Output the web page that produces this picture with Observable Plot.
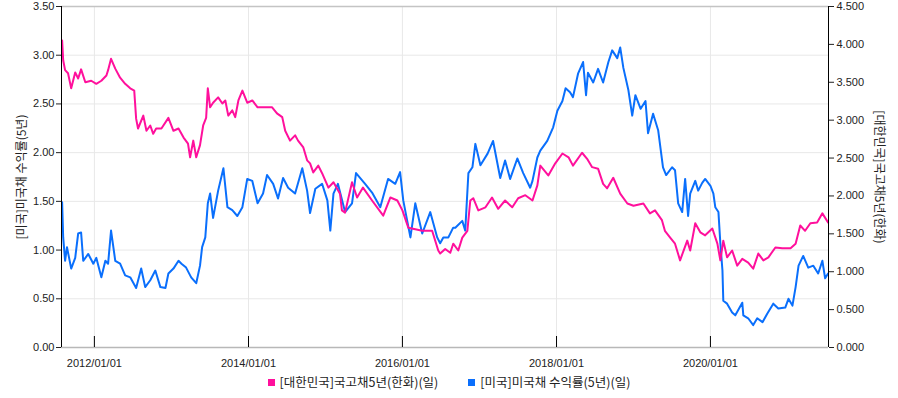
<!DOCTYPE html>
<html><head><meta charset="utf-8">
<script src="https://cdn.jsdelivr.net/npm/d3@7"></script>
<script src="https://cdn.jsdelivr.net/npm/@observablehq/plot@0.6"></script>
<style>
body{margin:0;background:#fff;}
#chart{position:relative;width:898px;height:398px;overflow:hidden;}
.legend{position:absolute;top:373px;left:0;width:898px;display:flex;justify-content:center;gap:30px;font:12.5px "Noto Sans CJK KR",sans-serif;color:#222;line-height:18px;}
.legend .it{display:flex;align-items:center;}
.legend .sw{display:inline-block;width:7px;height:7px;margin-right:5px;}
</style></head>
<body><div id="chart"></div>
<script>
// ---- data ----
const krName = "[대한민국]국고채5년(한화)(일)";
const usName = "[미국]미국채 수익률(5년)(일)";
const leftLabel = "[미국]미국채 수익률(5년)";
const rightLabel = "[대한민국]국고채5년(한화)";
const krColor = "#ff109c";
const usColor = "#0a6ffc";
const xDomain = ["2011-07-29", "2021-07-14"];
const xTicks = ["2012-01-01", "2014-01-01", "2016-01-01", "2018-01-01", "2020-01-01"];
const leftDomain = [0, 3.5];
const rightDomain = [0, 4.5];
const leftTicks = [0, 0.5, 1, 1.5, 2, 2.5, 3, 3.5];
const rightTicks = [0, 0.5, 1, 1.5, 2, 2.5, 3, 3.5, 4, 4.5];

const krDates = [
"2011-08-01","2011-08-06","2011-08-15","2011-08-29","2011-09-13","2011-10-02","2011-10-16","2011-10-30","2011-11-19","2011-12-17",
"2012-01-10","2012-02-03","2012-02-27","2012-03-06","2012-03-20","2012-04-09","2012-05-02","2012-05-26","2012-06-19","2012-07-08",
"2012-07-17","2012-07-26","2012-08-20","2012-09-04","2012-09-22","2012-10-06","2012-10-20","2012-11-14","2012-12-17","2013-01-10",
"2013-02-03","2013-02-27","2013-03-20","2013-03-30","2013-04-14","2013-04-28","2013-05-16","2013-05-31","2013-06-14","2013-06-22",
"2013-07-03","2013-07-17","2013-08-10","2013-08-30","2013-09-13","2013-09-27","2013-10-16","2013-10-30","2013-11-14","2013-12-03",
"2013-12-26","2014-01-19","2014-02-13","2014-03-06","2014-04-23","2014-05-16","2014-06-10","2014-06-24","2014-07-17","2014-08-10",
"2014-08-24","2014-09-18","2014-10-06","2014-10-20","2014-11-04","2014-11-28","2014-12-16","2015-01-15","2015-02-08","2015-03-11",
"2015-03-20","2015-04-04","2015-05-07","2015-05-31","2015-06-28","2015-08-10","2015-10-02","2015-11-05","2015-12-08","2016-01-01",
"2016-01-29","2016-04-04","2016-05-21","2016-06-19","2016-06-28","2016-07-22","2016-08-15","2016-08-29","2016-09-22","2016-10-11",
"2016-11-04","2016-11-18","2016-12-02","2016-12-26","2017-01-29","2017-03-01","2017-03-30","2017-05-02","2017-06-05","2017-07-03",
"2017-08-06","2017-09-09","2017-10-02","2017-10-16","2017-11-23","2017-12-26","2018-01-29","2018-02-27","2018-03-20","2018-05-02",
"2018-05-26","2018-06-19","2018-07-17","2018-08-10","2018-08-29","2018-09-27","2018-10-30","2018-12-03","2019-01-01","2019-02-17",
"2019-03-20","2019-04-13","2019-05-16","2019-05-30","2019-06-24","2019-07-17","2019-08-10","2019-09-13","2019-09-27","2019-10-21",
"2019-11-14","2019-12-07","2020-01-10","2020-02-03","2020-02-17","2020-03-02","2020-03-20","2020-04-13","2020-05-07","2020-05-31",
"2020-06-28","2020-07-22","2020-08-15","2020-09-08","2020-10-02","2020-11-04","2020-12-07","2021-01-15","2021-02-08","2021-03-02",
"2021-03-25","2021-04-19","2021-05-21","2021-06-15","2021-07-12"];
const krValues = [
4.05,3.79,3.66,3.62,3.42,3.63,3.55,3.67,3.50,3.52,
3.48,3.52,3.59,3.66,3.81,3.68,3.56,3.48,3.42,3.39,
3.02,2.89,3.06,2.86,2.93,2.82,2.89,2.89,3.03,2.86,
2.89,2.77,2.69,2.51,2.73,2.51,2.67,2.93,3.03,3.42,
3.17,3.23,3.30,3.22,3.26,3.06,3.13,3.04,3.26,3.39,
3.23,3.26,3.17,3.17,3.17,3.09,3.04,2.86,2.73,2.80,
2.73,2.64,2.47,2.43,2.31,2.40,2.30,2.11,2.18,2.03,
1.81,1.78,2.18,1.98,2.11,1.94,1.74,1.98,1.94,1.81,
1.58,1.54,1.54,1.28,1.24,1.30,1.25,1.37,1.28,1.45,
1.54,1.94,1.97,1.81,1.85,1.98,1.83,1.94,1.85,1.97,
2.01,1.94,2.14,2.40,2.27,2.43,2.56,2.51,2.40,2.57,
2.49,2.38,2.36,2.16,2.10,2.24,2.03,1.90,1.87,1.90,
1.77,1.81,1.68,1.54,1.45,1.37,1.15,1.41,1.28,1.64,
1.52,1.48,1.57,1.37,1.15,1.41,1.19,1.28,1.08,1.17,
1.12,1.04,1.24,1.15,1.19,1.32,1.31,1.31,1.37,1.61,
1.54,1.64,1.65,1.77,1.65];

const usDates = [
"2011-08-01","2011-08-06","2011-08-15","2011-08-24","2011-09-13","2011-10-02","2011-10-16","2011-10-30","2011-11-09","2011-12-03",
"2011-12-27","2012-01-10","2012-02-03","2012-02-22","2012-03-06","2012-03-20","2012-04-09","2012-05-02","2012-05-26","2012-06-19",
"2012-07-17","2012-08-10","2012-08-29","2012-09-22","2012-10-16","2012-11-09","2012-12-03","2012-12-17","2013-01-10","2013-02-03",
"2013-02-17","2013-03-11","2013-04-04","2013-04-28","2013-05-16","2013-05-26","2013-06-10","2013-06-22","2013-07-03","2013-07-17",
"2013-08-10","2013-09-04","2013-09-23","2013-10-16","2013-11-09","2013-12-03","2013-12-26","2014-01-19","2014-02-13","2014-03-11",
"2014-03-30","2014-04-28","2014-05-21","2014-06-14","2014-07-08","2014-08-10","2014-09-13","2014-10-06","2014-10-20","2014-11-14",
"2014-12-16","2015-01-10","2015-01-24","2015-02-08","2015-03-01","2015-04-04","2015-05-07","2015-05-26","2015-07-08","2015-08-10",
"2015-09-18","2015-10-25","2015-11-28","2015-12-21","2016-01-05","2016-02-08","2016-03-02","2016-04-04","2016-05-12","2016-06-14",
"2016-06-28","2016-07-13","2016-08-06","2016-08-29","2016-09-08","2016-10-11","2016-10-25","2016-11-09","2016-11-28","2016-12-12",
"2017-01-05","2017-02-08","2017-03-06","2017-04-09","2017-05-02","2017-05-26","2017-06-29","2017-07-27","2017-08-29","2017-09-09",
"2017-10-02","2017-10-16","2017-11-18","2017-12-16","2018-01-05","2018-01-29","2018-02-13","2018-03-06","2018-03-20","2018-04-13",
"2018-05-07","2018-05-21","2018-05-30","2018-06-24","2018-07-17","2018-08-10","2018-09-04","2018-09-22","2018-10-16","2018-10-30",
"2018-11-14","2018-12-08","2018-12-26","2019-01-10","2019-02-04","2019-02-27","2019-03-11","2019-04-04","2019-04-28","2019-05-21",
"2019-06-05","2019-07-03","2019-07-17","2019-08-01","2019-08-20","2019-09-03","2019-09-17","2019-09-27","2019-10-21","2019-11-04",
"2019-11-23","2019-12-07","2020-01-01","2020-01-15","2020-01-24","2020-02-08","2020-02-17","2020-02-27","2020-03-02","2020-03-20",
"2020-04-13","2020-04-28","2020-05-31","2020-06-05","2020-06-28","2020-07-22","2020-08-10","2020-09-04","2020-09-27","2020-10-25",
"2020-11-18","2020-12-21","2021-01-05","2021-01-24","2021-02-08","2021-02-22","2021-03-16","2021-04-09","2021-05-03","2021-05-26",
"2021-06-15","2021-06-28","2021-07-12"];
const usValues = [
1.49,1.13,0.89,1.03,0.81,0.92,1.17,1.18,0.89,0.96,
0.86,0.92,0.72,0.89,0.86,1.20,0.89,0.86,0.74,0.72,
0.61,0.81,0.62,0.69,0.79,0.62,0.61,0.76,0.81,0.89,
0.86,0.82,0.72,0.66,0.84,1.03,1.13,1.48,1.58,1.33,
1.61,1.84,1.44,1.41,1.35,1.44,1.73,1.71,1.48,1.58,
1.77,1.68,1.53,1.74,1.64,1.58,1.84,1.61,1.38,1.63,
1.68,1.51,1.20,1.58,1.68,1.39,1.48,1.79,1.68,1.59,
1.44,1.73,1.68,1.80,1.51,1.13,1.48,1.17,1.39,1.13,
1.07,1.13,1.13,1.23,1.23,1.30,1.20,1.79,1.85,2.09,
1.87,1.99,2.12,1.74,1.92,1.73,1.94,1.79,1.64,1.71,
1.95,2.02,2.12,2.26,2.43,2.53,2.66,2.62,2.57,2.81,
2.93,2.59,2.82,2.72,2.86,2.72,2.93,3.05,2.97,3.08,
2.87,2.64,2.38,2.59,2.45,2.53,2.20,2.40,2.23,1.85,
1.77,1.85,1.82,1.48,1.39,1.73,1.35,1.58,1.71,1.61,
1.69,1.73,1.66,1.58,1.44,1.39,1.07,0.79,0.48,0.45,
0.36,0.33,0.46,0.33,0.30,0.23,0.30,0.26,0.35,0.45,
0.40,0.41,0.50,0.43,0.62,0.84,0.94,0.82,0.84,0.76,
0.89,0.71,0.76];

// ---- build ----
const k = leftDomain[1] / rightDomain[1];
const us = usDates.map((d, i) => ({date: new Date(d), v: usValues[i]}));
const kr = krDates.map((d, i) => ({date: new Date(d), v: krValues[i] * k}));
const xd = xDomain.map(d => new Date(d));
const xt = xTicks.map(d => new Date(d));
const korFont = '"Noto Sans CJK KR", sans-serif';

const plot = Plot.plot({
  width: 898, height: 372,
  marginLeft: 61, marginRight: 70, marginTop: 6, marginBottom: 25,
  style: {fontFamily: '"Liberation Sans", Arial, sans-serif', fontSize: "11px", color: "#222", background: "#fff", overflow: "visible"},
  x: {type: "utc", domain: xd},
  y: {domain: leftDomain},
  marks: [
    Plot.gridY(leftTicks, {stroke: "#e8e8e8", strokeOpacity: 1}),
    Plot.gridX(xt, {stroke: "#e8e8e8", strokeOpacity: 1}),
    Plot.ruleY([leftDomain[1]], {stroke: "#c4c4c4", strokeWidth: 1.5}),
    Plot.ruleY([leftDomain[0]], {stroke: "#b8b8b8", strokeWidth: 1.5}),
    Plot.line(us, {x: "date", y: "v", stroke: usColor, strokeWidth: 2}),
    Plot.line(kr, {x: "date", y: "v", stroke: krColor, strokeWidth: 2}),
    Plot.ruleX(xt, {stroke: "#000", insetTop: 330}),
    Plot.axisX(xt, {tickSize: 0, tickPadding: 12, tickFormat: d3.utcFormat("%Y/%m/%d"), label: null}),
    Plot.axisY(leftTicks, {anchor: "left", tickSize: 5, tickPadding: 2, tickFormat: d => d.toFixed(2), label: null}),
    Plot.axisY(rightTicks.map(t => t * k), {anchor: "right", tickSize: 5, tickPadding: 3, tickFormat: d => (d / k).toFixed(3), label: null}),
    Plot.ruleX([xd[0]], {stroke: "#000"}),
    Plot.ruleX([xd[1]], {stroke: "#000"}),
    Plot.text([leftLabel], {text: d => d, frameAnchor: "left", textAnchor: "middle", dx: -39, rotate: -90, fontFamily: korFont, fontSize: 12, fill: "#222"}),
    Plot.text([rightLabel], {text: d => d, frameAnchor: "right", textAnchor: "middle", dx: 50, rotate: 90, fontFamily: korFont, fontSize: 12, fill: "#222"})
  ]
});

const chart = document.getElementById("chart");
chart.appendChild(plot);
const legend = document.createElement("div");
legend.className = "legend";
[[krName, krColor], [usName, usColor]].forEach(([name, color]) => {
  const it = document.createElement("div");
  it.className = "it";
  const sw = document.createElement("span");
  sw.className = "sw";
  sw.style.background = color;
  it.appendChild(sw);
  it.appendChild(document.createTextNode(name));
  legend.appendChild(it);
});
chart.appendChild(legend);
</script></body></html>
